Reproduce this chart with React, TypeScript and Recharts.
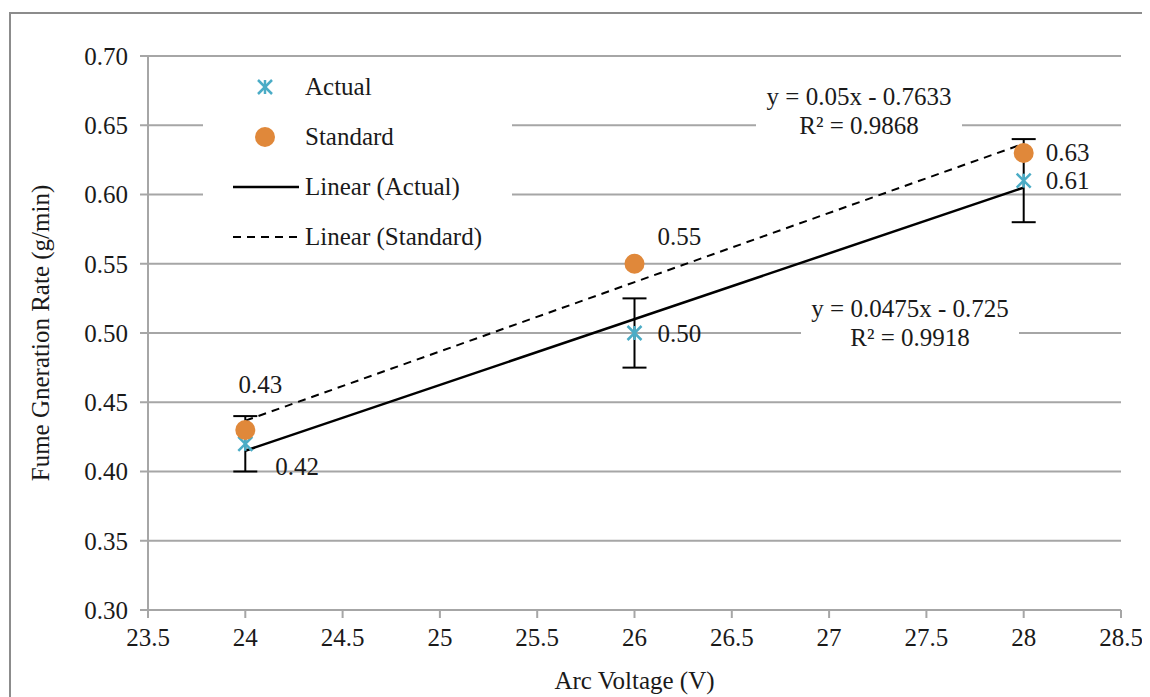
import React from 'react'
import {
  ComposedChart,
  Scatter,
  Line,
  XAxis,
  YAxis,
  CartesianGrid,
  ErrorBar,
  LabelList
} from 'recharts'

// values
const voltages = [24, 26, 28]
const actualRate = [0.42, 0.5, 0.61]
const actualError = [0.02, 0.025, 0.03]
const standardRate = [0.43, 0.55, 0.63]

// trendline ends (from the fitted equations shown on the chart)
const trendX = [24, 28]
const actualTrend = [0.415, 0.605]
const standardTrend = [0.4367, 0.6367]

const xTicks = [23.5, 24, 24.5, 25, 25.5, 26, 26.5, 27, 27.5, 28, 28.5]
const yTicks = [0.3, 0.35, 0.4, 0.45, 0.5, 0.55, 0.6, 0.65, 0.7]

const FONT = '"Liberation Serif", "Times New Roman", serif'
const FS = 25
const TEAL = '#4BACC6'
const ORANGE = '#E0883A'
const GRID = '#A6A6A6'
const TEXT = '#1a1a1a'

const actualData = voltages.map((x, i) => ({ x, y: actualRate[i], err: actualError[i] }))
const standardData = voltages.map((x, i) => ({ x, y: standardRate[i] }))
const actualTrendData = trendX.map((x, i) => ({ x, y: actualTrend[i] }))
const standardTrendData = trendX.map((x, i) => ({ x, y: standardTrend[i] }))

// label placement for each point: [dx, dy, anchor]
const actualLabelPos: Array<[number, number, string]> = [
  [30, 23, 'start'],
  [23, 0, 'start'],
  [22, 0, 'start']
]
const standardLabelPos: Array<[number, number, string]> = [
  [15, -45, 'middle'],
  [23, -27, 'start'],
  [22, 0, 'start']
]

const Asterisk = (props: any) => {
  const { cx, cy } = props
  const r = 7
  return (
    <g stroke={TEAL} strokeWidth={2.5}>
      <line x1={cx - r} y1={cy - r} x2={cx + r} y2={cy + r} />
      <line x1={cx - r} y1={cy + r} x2={cx + r} y2={cy - r} />
      <line x1={cx} y1={cy - r} x2={cx} y2={cy + r} />
    </g>
  )
}

const Dot = (props: any) => {
  const { cx, cy } = props
  return <circle cx={cx} cy={cy} r={10} fill={ORANGE} />
}

const makeLabel = (pos: Array<[number, number, string]>) => (props: any) => {
  const { x, y, width, height, value, index } = props
  const [dx, dy, anchor] = pos[index] || [20, 0, 'start']
  const cx = x + (width || 0) / 2
  const cy = y + (height || 0) / 2
  return (
    <text
      x={cx + dx}
      y={cy + dy}
      textAnchor={anchor}
      dominantBaseline="central"
      fontFamily={FONT}
      fontSize={FS}
      fill={TEXT}
    >
      {Number(value).toFixed(2)}
    </text>
  )
}

const LegendBox = () => {
  const row = (icon: React.ReactNode, label: string) => (
    <div style={{ display: 'flex', alignItems: 'center', height: 50 }}>
      <svg width={102} height={50} style={{ flex: 'none' }}>{icon}</svg>
      <span style={{ whiteSpace: 'nowrap' }}>{label}</span>
    </div>
  )
  return (
    <div
      style={{
        position: 'absolute',
        left: 192,
        top: 48,
        background: '#fff',
        width: 309,
        height: 200,
        fontFamily: FONT,
        fontSize: FS,
        color: TEXT
      }}
    >
      {row(<Asterisk cx={62} cy={25} />, 'Actual')}
      {row(<circle cx={62} cy={25} r={10} fill={ORANGE} />, 'Standard')}
      {row(<line x1={30} y1={25} x2={96} y2={25} stroke="#000" strokeWidth={2.5} />, 'Linear (Actual)')}
      {row(
        <line x1={30} y1={25} x2={96} y2={25} stroke="#000" strokeWidth={2} strokeDasharray="8 6" />,
        'Linear (Standard)'
      )}
    </div>
  )
}

const eqBox = (left: number, top: number, width: number, lines: string[]) => (
  <div
    style={{
      position: 'absolute',
      left,
      top,
      width,
      background: '#fff',
      textAlign: 'center',
      fontFamily: FONT,
      fontSize: FS,
      lineHeight: '29px',
      color: TEXT,
      whiteSpace: 'nowrap'
    }}
  >
    {lines.map((l) => (
      <div key={l}>{l}</div>
    ))}
  </div>
)

export default function App() {
  const tickStyle = { fontFamily: FONT, fontSize: FS, fill: TEXT }
  return (
    <div
      style={{
        position: 'relative',
        marginTop: 4,
        marginLeft: 1,
        width: 1140,
        height: 690,
        border: '2px solid #8c8c8c'
      }}
    >
      <ComposedChart
        width={1140}
        height={690}
        margin={{ top: 42, right: 30, bottom: 24, left: 0 }}
      >
        <CartesianGrid vertical={false} stroke={GRID} strokeWidth={2} />
        <XAxis
          type="number"
          dataKey="x"
          domain={[23.5, 28.5]}
          ticks={xTicks}
          interval={0}
          allowDataOverflow
          height={70}
          stroke={GRID}
          strokeWidth={2}
          tickSize={8}
          tickMargin={10}
          tick={tickStyle}
          tickFormatter={(v: number) => String(v)}
          label={(props: any) => {
            const vb = props.viewBox
            return (
              <text
                x={vb.x + vb.width / 2}
                y={666}
                textAnchor="middle"
                dominantBaseline="central"
                fontFamily={FONT}
                fontSize={FS}
                fill={TEXT}
              >
                Arc Voltage (V)
              </text>
            )
          }}
        />
        <YAxis
          type="number"
          dataKey="y"
          domain={[0.3, 0.7]}
          ticks={yTicks}
          interval={0}
          allowDataOverflow
          width={137}
          stroke={GRID}
          strokeWidth={2}
          tickSize={8}
          tickMargin={12}
          tick={tickStyle}
          tickFormatter={(v: number) => v.toFixed(2)}
          label={(props: any) => {
            const vb = props.viewBox
            const cy = vb.y + vb.height / 2
            return (
              <text
                x={29}
                y={cy}
                transform={`rotate(-90, 29, ${cy})`}
                textAnchor="middle"
                dominantBaseline="central"
                fontFamily={FONT}
                fontSize={FS}
                fill={TEXT}
              >
                Fume Gneration Rate (g/min)
              </text>
            )
          }}
        />
        <Line
          data={actualTrendData}
          dataKey="y"
          stroke="#000"
          strokeWidth={2.5}
          dot={false}
          activeDot={false}
          isAnimationActive={false}
          legendType="none"
        />
        <Line
          data={standardTrendData}
          dataKey="y"
          stroke="#000"
          strokeWidth={2}
          strokeDasharray="8 6"
          dot={false}
          activeDot={false}
          isAnimationActive={false}
          legendType="none"
        />
        <Scatter
          name="Actual"
          data={actualData}
          dataKey="y"
          shape={Asterisk}
          isAnimationActive={false}
        >
          <ErrorBar dataKey="err" direction="y" width={12} stroke="#000" strokeWidth={2} />
          <LabelList dataKey="y" content={makeLabel(actualLabelPos)} />
        </Scatter>
        <Scatter
          name="Standard"
          data={standardData}
          dataKey="y"
          shape={Dot}
          isAnimationActive={false}
        >
          <LabelList dataKey="y" content={makeLabel(standardLabelPos)} />
        </Scatter>
      </ComposedChart>
      <LegendBox />
      {eqBox(745, 68, 206, ['y = 0.05x - 0.7633', 'R² = 0.9868'])}
      {eqBox(790, 280, 218, ['y = 0.0475x - 0.725', 'R² = 0.9918'])}
    </div>
  )
}
